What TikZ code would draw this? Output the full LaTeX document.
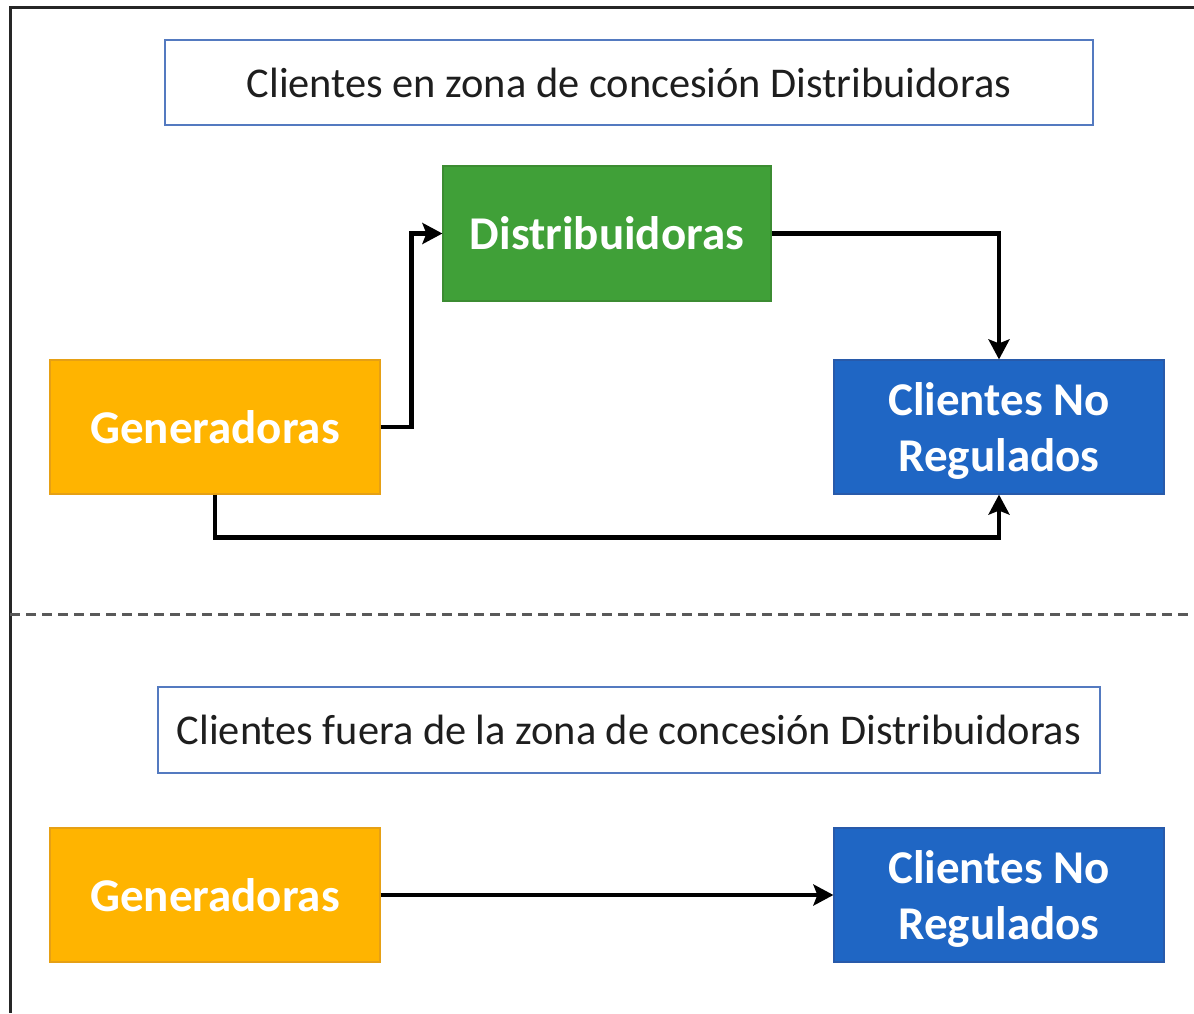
\documentclass[tikz,border=0pt]{standalone}
\usepackage{fontspec}
\setmainfont{Carlito}
\usetikzlibrary{arrows.meta}
\definecolor{genorange}{RGB}{255,180,0}
\definecolor{genborder}{RGB}{230,160,20}
\definecolor{distgreen}{RGB}{64,160,56}
\definecolor{distborder}{RGB}{60,140,50}
\definecolor{cliblue}{RGB}{31,102,196}
\definecolor{cliborder}{RGB}{40,90,170}
\definecolor{titleborder}{RGB}{84,122,192}
\definecolor{titletext}{RGB}{30,30,30}
\newcommand{\clitext}{\raisebox{0pt}[\dimexpr\height+8pt\relax][\depth]{\shortstack{Clientes No\\[19pt]Regulados}}}
\tikzset{
  titlebox/.style={draw=titleborder, line width=2.2pt, fill=white, inner sep=0pt,
    text=titletext, font=\fontsize{42.4}{48}\selectfont},
  colbox/.style={minimum width=330pt, minimum height=134pt, inner sep=0pt, line width=1.2pt,
    text=white, align=center, font=\bfseries\fontsize{47}{56}\selectfont},
  genbox/.style={colbox, fill=genorange, draw=genborder},
  distbox/.style={colbox, fill=distgreen, draw=distborder},
  clibox/.style={colbox, fill=cliblue, draw=cliborder},
  flow/.style={line width=4.5pt, black, -{Stealth[length=20pt,width=21pt,inset=4pt]}},
}
\begin{document}
\begin{tikzpicture}[x=1pt,y=-1pt]
\useasboundingbox (0,0) rectangle (1194,1013);
% frame
\draw[line width=3pt, color=black!85] (1194,7) -- (10,7) -- (10,1013);
% separator
\draw[line width=3pt, color=black!65, dash pattern=on 10pt off 6pt] (10,614) -- (1194,614);
% top section
\node[titlebox, minimum width=928pt, minimum height=85pt] (t1) at (629,82.5) {Clientes en zona de concesión Distribuidoras};
\node[distbox, minimum width=328pt, minimum height=135pt] (d) at (607,233.5) {Distribuidoras};
\node[genbox] (g1) at (215,427) {Generadoras};
\node[clibox] (c1) at (999,427) {\clitext};
\draw[flow] (g1.east) -- ++(31,0) |- (d.west);
\draw[flow] (d.east) -| (c1.north);
\draw[flow] (g1.south) -- ++(0,43) -| (c1.south);
% bottom section
\node[titlebox, minimum width=942pt, minimum height=86pt] (t2) at (629,730) {Clientes fuera de la zona de concesión Distribuidoras};
\node[genbox] (g2) at (215,895) {Generadoras};
\node[clibox] (c2) at (999,895) {\clitext};
\draw[flow] (g2.east) -- (c2.west);
\end{tikzpicture}
\end{document}
